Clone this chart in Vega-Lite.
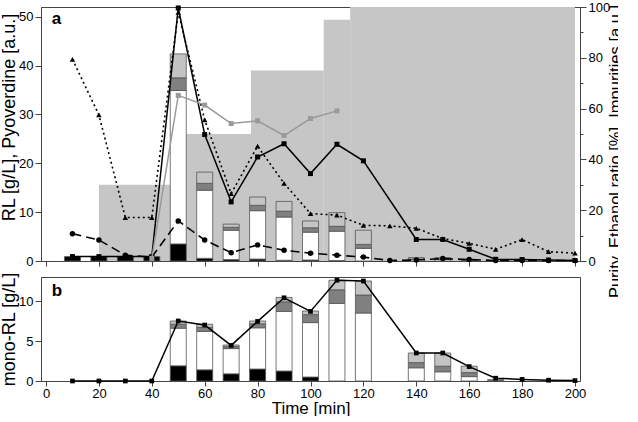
{
  "$schema": "https://vega.github.io/schema/vega-lite/v6.json",
  "padding": {"left": 0, "top": 0, "right": -6, "bottom": -1},
  "background": "white",
  "bounds": "flush",
  "config": {
    "font": "Liberation Sans",
    "view": {"stroke": "#444", "strokeWidth": 1},
    "axis": {
      "labelFont": "Liberation Sans", "labelFontSize": 13, "labelColor": "#000",
      "titleFont": "Liberation Sans", "titleFontSize": 18, "titleFontWeight": "normal", "titleColor": "#000",
      "domainColor": "#444", "tickColor": "#444", "grid": false, "labelPadding": 2, "titlePadding": 0
    }
  },
  "datasets": {
    "ethanol": [
      {"from": 20, "to": 50, "ratio": 30},
      {"from": 50, "to": 77.5, "ratio": 50},
      {"from": 77.5, "to": 105, "ratio": 75},
      {"from": 105, "to": 115, "ratio": 95},
      {"from": 115, "to": 200, "ratio": 100}
    ],
    "rl": [
      {"t": 10, "part": "c1", "v": 0.9}, {"t": 20, "part": "c1", "v": 0.9}, {"t": 30, "part": "c1", "v": 0.9}, {"t": 40, "part": "c1", "v": 0.9},
      {"t": 50, "part": "c1", "v": 3.5}, {"t": 50, "part": "c2", "v": 31.4}, {"t": 50, "part": "c3", "v": 2.6}, {"t": 50, "part": "c4", "v": 4.9},
      {"t": 60, "part": "c1", "v": 0.55}, {"t": 60, "part": "c2", "v": 13.95}, {"t": 60, "part": "c3", "v": 1.4}, {"t": 60, "part": "c4", "v": 2.3},
      {"t": 70, "part": "c1", "v": 0.3}, {"t": 70, "part": "c2", "v": 6.0}, {"t": 70, "part": "c3", "v": 0.6}, {"t": 70, "part": "c4", "v": 0.65},
      {"t": 80, "part": "c1", "v": 0.4}, {"t": 80, "part": "c2", "v": 9.9}, {"t": 80, "part": "c3", "v": 1.1}, {"t": 80, "part": "c4", "v": 1.7},
      {"t": 90, "part": "c1", "v": 0.15}, {"t": 90, "part": "c2", "v": 8.85}, {"t": 90, "part": "c3", "v": 1.2}, {"t": 90, "part": "c4", "v": 2.0},
      {"t": 100, "part": "c1", "v": 0.2}, {"t": 100, "part": "c2", "v": 5.7}, {"t": 100, "part": "c3", "v": 0.9}, {"t": 100, "part": "c4", "v": 1.4},
      {"t": 110, "part": "c1", "v": 0.1}, {"t": 110, "part": "c2", "v": 6.0}, {"t": 110, "part": "c3", "v": 1.0}, {"t": 110, "part": "c4", "v": 2.8},
      {"t": 120, "part": "c2", "v": 2.6}, {"t": 120, "part": "c3", "v": 0.8}, {"t": 120, "part": "c4", "v": 2.9},
      {"t": 140, "part": "c2", "v": 0.3}, {"t": 140, "part": "c3", "v": 0.1}, {"t": 140, "part": "c4", "v": 0.3},
      {"t": 150, "part": "c2", "v": 0.3}, {"t": 150, "part": "c3", "v": 0.1}, {"t": 150, "part": "c4", "v": 0.3},
      {"t": 160, "part": "c2", "v": 0.1}, {"t": 160, "part": "c3", "v": 0.05}, {"t": 160, "part": "c4", "v": 0.15}
    ],
    "series": [
      {"t": 10, "s": "RL", "v": 0.9}, {"t": 20, "s": "RL", "v": 0.9}, {"t": 30, "s": "RL", "v": 0.9}, {"t": 40, "s": "RL", "v": 0.9},
      {"t": 50, "s": "RL", "v": 51.8}, {"t": 60, "s": "RL", "v": 25.9}, {"t": 70, "s": "RL", "v": 12.1}, {"t": 80, "s": "RL", "v": 21.3},
      {"t": 90, "s": "RL", "v": 24.0}, {"t": 100, "s": "RL", "v": 17.9}, {"t": 110, "s": "RL", "v": 23.9}, {"t": 120, "s": "RL", "v": 20.5},
      {"t": 140, "s": "RL", "v": 4.4}, {"t": 150, "s": "RL", "v": 4.4}, {"t": 160, "s": "RL", "v": 2.4}, {"t": 170, "s": "RL", "v": 0.35},
      {"t": 180, "s": "RL", "v": 0.3}, {"t": 190, "s": "RL", "v": 0.2}, {"t": 200, "s": "RL", "v": 0.1},
      {"t": 10, "s": "Impurities", "v": 41.3}, {"t": 20, "s": "Impurities", "v": 29.9}, {"t": 30, "s": "Impurities", "v": 8.9}, {"t": 40, "s": "Impurities", "v": 8.9},
      {"t": 50, "s": "Impurities", "v": 50.9}, {"t": 60, "s": "Impurities", "v": 28.9}, {"t": 70, "s": "Impurities", "v": 13.8}, {"t": 80, "s": "Impurities", "v": 23.5},
      {"t": 90, "s": "Impurities", "v": 15.9}, {"t": 100, "s": "Impurities", "v": 9.7}, {"t": 110, "s": "Impurities", "v": 9.4}, {"t": 120, "s": "Impurities", "v": 7.3},
      {"t": 130, "s": "Impurities", "v": 7.2}, {"t": 140, "s": "Impurities", "v": 6.7}, {"t": 150, "s": "Impurities", "v": 4.6}, {"t": 160, "s": "Impurities", "v": 3.6},
      {"t": 170, "s": "Impurities", "v": 2.4}, {"t": 180, "s": "Impurities", "v": 4.4}, {"t": 190, "s": "Impurities", "v": 1.9}, {"t": 200, "s": "Impurities", "v": 1.6},
      {"t": 10, "s": "Pyoverdine", "v": 5.6}, {"t": 20, "s": "Pyoverdine", "v": 4.3}, {"t": 30, "s": "Pyoverdine", "v": 1.2}, {"t": 40, "s": "Pyoverdine", "v": 0.8},
      {"t": 50, "s": "Pyoverdine", "v": 8.2}, {"t": 60, "s": "Pyoverdine", "v": 4.3}, {"t": 70, "s": "Pyoverdine", "v": 1.7}, {"t": 80, "s": "Pyoverdine", "v": 3.3},
      {"t": 90, "s": "Pyoverdine", "v": 2.2}, {"t": 100, "s": "Pyoverdine", "v": 1.6}, {"t": 110, "s": "Pyoverdine", "v": 1.2}, {"t": 120, "s": "Pyoverdine", "v": 0.8},
      {"t": 130, "s": "Pyoverdine", "v": 0.1}, {"t": 140, "s": "Pyoverdine", "v": 0.2}, {"t": 150, "s": "Pyoverdine", "v": 0.5}, {"t": 160, "s": "Pyoverdine", "v": 0.3},
      {"t": 170, "s": "Pyoverdine", "v": 0.1}, {"t": 180, "s": "Pyoverdine", "v": 0.1}, {"t": 190, "s": "Pyoverdine", "v": 0.1}, {"t": 200, "s": "Pyoverdine", "v": 0.1}
    ],
    "purity": [
      {"t": 40, "v": 1}, {"t": 50, "v": 65.2}, {"t": 60, "v": 61.4}, {"t": 70, "v": 54.1},
      {"t": 80, "v": 55.2}, {"t": 90, "v": 49.4}, {"t": 100, "v": 56.1}, {"t": 110, "v": 59.1}
    ],
    "mono": [
      {"t": 50, "part": "c1", "v": 1.9}, {"t": 50, "part": "c2", "v": 4.7}, {"t": 50, "part": "c3", "v": 0.5}, {"t": 50, "part": "c4", "v": 0.4},
      {"t": 60, "part": "c1", "v": 1.4}, {"t": 60, "part": "c2", "v": 4.8}, {"t": 60, "part": "c3", "v": 0.5}, {"t": 60, "part": "c4", "v": 0.4},
      {"t": 70, "part": "c1", "v": 0.9}, {"t": 70, "part": "c2", "v": 3.15}, {"t": 70, "part": "c3", "v": 0.25}, {"t": 70, "part": "c4", "v": 0.2},
      {"t": 80, "part": "c1", "v": 1.5}, {"t": 80, "part": "c2", "v": 5.15}, {"t": 80, "part": "c3", "v": 0.5}, {"t": 80, "part": "c4", "v": 0.35},
      {"t": 90, "part": "c1", "v": 1.25}, {"t": 90, "part": "c2", "v": 7.45}, {"t": 90, "part": "c3", "v": 1.2}, {"t": 90, "part": "c4", "v": 0.55},
      {"t": 100, "part": "c1", "v": 0.5}, {"t": 100, "part": "c2", "v": 6.8}, {"t": 100, "part": "c3", "v": 1.0}, {"t": 100, "part": "c4", "v": 0.45},
      {"t": 110, "part": "c2", "v": 9.7}, {"t": 110, "part": "c3", "v": 1.7}, {"t": 110, "part": "c4", "v": 1.2},
      {"t": 120, "part": "c2", "v": 8.5}, {"t": 120, "part": "c3", "v": 2.25}, {"t": 120, "part": "c4", "v": 1.75},
      {"t": 140, "part": "c2", "v": 1.65}, {"t": 140, "part": "c3", "v": 0.65}, {"t": 140, "part": "c4", "v": 1.2},
      {"t": 150, "part": "c2", "v": 1.15}, {"t": 150, "part": "c3", "v": 0.7}, {"t": 150, "part": "c4", "v": 1.65},
      {"t": 160, "part": "c2", "v": 0.55}, {"t": 160, "part": "c3", "v": 0.5}, {"t": 160, "part": "c4", "v": 0.8},
      {"t": 170, "part": "c2", "v": 0.1}, {"t": 170, "part": "c4", "v": 0.05}
    ],
    "monoline": [
      {"t": 10, "v": 0}, {"t": 20, "v": 0}, {"t": 30, "v": 0}, {"t": 40, "v": 0},
      {"t": 50, "v": 7.5}, {"t": 60, "v": 7.0}, {"t": 70, "v": 4.45}, {"t": 80, "v": 7.45},
      {"t": 90, "v": 10.4}, {"t": 100, "v": 8.7}, {"t": 110, "v": 12.6}, {"t": 120, "v": 12.5},
      {"t": 140, "v": 3.5}, {"t": 150, "v": 3.5}, {"t": 160, "v": 1.8}, {"t": 170, "v": 0.35},
      {"t": 180, "v": 0.2}, {"t": 190, "v": 0.1}, {"t": 200, "v": 0.05}
    ],
    "labels": [{"panel": "a", "x": 2.2, "y": 49.6}, {"panel": "b", "x": 2.2, "y": 11.2}]
  },
  "spacing": 16,
  "vconcat": [
    {
      "width": 539,
      "height": 254,
      "layer": [
        {
          "data": {"name": "ethanol"},
          "mark": {"type": "rect", "color": "#c6c6c6"},
          "encoding": {
            "x": {"field": "from", "type": "quantitative", "scale": {"domain": [0, 200], "nice": false},
                  "axis": {"values": [0,10,20,30,40,50,60,70,80,90,100,110,120,130,140,150,160,170,180,190,200], "labels": false, "title": null,
                           "tickSize": {"condition": {"test": "datum.value % 20 === 0", "value": 5}, "value": 3}}},
            "x2": {"field": "to"},
            "y": {"field": "ratio", "type": "quantitative", "scale": {"domain": [0, 100], "nice": false},
                  "axis": {"orient": "right", "title": "Purity, Ethanol ratio [%], Impurities [a.u.]", "titleFontSize": 16.5,
                           "titleAngle": 270, "titleX": 35, "titleY": 144, "titleAlign": "center", "titleBaseline": "middle",
                           "values": [0,10,20,30,40,50,60,70,80,90,100],
                           "labelExpr": "datum.value % 20 === 0 ? datum.label : ''",
                           "tickSize": {"condition": {"test": "datum.value % 20 === 0", "value": 6}, "value": 3}}},
            "y2": {"datum": 0}
          }
        },
        {
          "layer": [
            {
              "data": {"name": "rl"},
              "mark": {"type": "bar", "size": 16, "stroke": "#555", "strokeWidth": 0.8},
              "encoding": {
                "x": {"field": "t", "type": "quantitative"},
                "y": {"field": "v", "type": "quantitative", "stack": "zero", "scale": {"domain": [0, 52], "nice": false},
                      "axis": {"orient": "left", "title": "RL [g/L], Pyoverdine [a.u.]", "titleY": 110,
                               "values": [0,5,10,15,20,25,30,35,40,45,50],
                               "labelExpr": "datum.value % 10 === 0 ? datum.label : ''",
                               "tickSize": {"condition": {"test": "datum.value % 10 === 0", "value": 6}, "value": 3}}},
                "color": {"field": "part", "type": "nominal", "legend": null,
                          "scale": {"domain": ["c1", "c2", "c3", "c4"], "range": ["#000000", "#ffffff", "#808080", "#c4c4c4"]}},
                "order": {"field": "part", "type": "nominal", "sort": "ascending"}
              }
            },
            {
              "data": {"name": "series"},
              "transform": [{"filter": "datum.s === 'Pyoverdine'"}],
              "mark": {"type": "line", "color": "#000", "strokeWidth": 1.6, "strokeDash": [9, 5],
                       "point": {"shape": "circle", "size": 30, "filled": true, "color": "#000"}},
              "encoding": {"x": {"field": "t", "type": "quantitative"}, "y": {"field": "v", "type": "quantitative"}}
            },
            {
              "data": {"name": "series"},
              "transform": [{"filter": "datum.s === 'Impurities'"}],
              "mark": {"type": "line", "color": "#000", "strokeWidth": 1.6, "strokeDash": [2, 3],
                       "point": {"shape": "triangle-up", "size": 30, "filled": true, "color": "#000"}},
              "encoding": {"x": {"field": "t", "type": "quantitative"}, "y": {"field": "v", "type": "quantitative"}}
            },
            {
              "data": {"name": "series"},
              "transform": [{"filter": "datum.s === 'RL'"}],
              "mark": {"type": "line", "color": "#000", "strokeWidth": 1.5,
                       "point": {"shape": "square", "size": 25, "filled": true, "color": "#000"}},
              "encoding": {"x": {"field": "t", "type": "quantitative"}, "y": {"field": "v", "type": "quantitative"}}
            },
            {
              "data": {"name": "labels"},
              "transform": [{"filter": "datum.panel === 'a'"}],
              "mark": {"type": "text", "fontWeight": "bold", "fontSize": 17, "align": "left", "baseline": "middle", "color": "#000"},
              "encoding": {"x": {"field": "x", "type": "quantitative"}, "y": {"field": "y", "type": "quantitative"}, "text": {"field": "panel"}}
            }
          ]
        },
        {
          "data": {"name": "purity"},
          "mark": {"type": "line", "color": "#9a9a9a", "strokeWidth": 1.5,
                   "point": {"shape": "square", "size": 25, "filled": true, "color": "#9a9a9a"}},
          "encoding": {
            "x": {"field": "t", "type": "quantitative"},
            "y": {"field": "v", "type": "quantitative", "scale": {"domain": [0, 100], "nice": false}, "axis": null}
          }
        }
      ],
      "resolve": {"scale": {"y": "independent"}, "axis": {"y": "independent"}}
    },
    {
      "width": 539,
      "height": 104,
      "layer": [
        {
          "data": {"name": "mono"},
          "mark": {"type": "bar", "size": 16, "stroke": "#555", "strokeWidth": 0.8},
          "encoding": {
            "x": {"field": "t", "type": "quantitative", "scale": {"domain": [0, 200], "nice": false},
                  "axis": {"values": [0,10,20,30,40,50,60,70,80,90,100,110,120,130,140,150,160,170,180,190,200],
                           "labelExpr": "datum.value % 20 === 0 ? datum.label : ''", "title": "Time [min]", "titlePadding": 0, "labelPadding": 1, "titleFontSize": 17,
                           "tickSize": {"condition": {"test": "datum.value % 20 === 0", "value": 5}, "value": 3}}},
            "y": {"field": "v", "type": "quantitative", "stack": "zero", "scale": {"domain": [0, 13], "nice": false},
                  "axis": {"title": "mono-RL [g/L]", "values": [0, 2.5, 5, 7.5, 10, 12.5],
                           "labelExpr": "datum.value % 5 === 0 ? datum.label : ''",
                           "tickSize": {"condition": {"test": "datum.value % 5 === 0", "value": 6}, "value": 3}}},
            "color": {"field": "part", "type": "nominal", "legend": null,
                      "scale": {"domain": ["c1", "c2", "c3", "c4"], "range": ["#000000", "#ffffff", "#808080", "#c4c4c4"]}},
            "order": {"field": "part", "type": "nominal", "sort": "ascending"}
          }
        },
        {
          "data": {"name": "monoline"},
          "mark": {"type": "line", "color": "#000", "strokeWidth": 1.5,
                   "point": {"shape": "square", "size": 22, "filled": true, "color": "#000"}},
          "encoding": {"x": {"field": "t", "type": "quantitative"}, "y": {"field": "v", "type": "quantitative"}}
        },
        {
          "data": {"name": "labels"},
          "transform": [{"filter": "datum.panel === 'b'"}],
          "mark": {"type": "text", "fontWeight": "bold", "fontSize": 17, "align": "left", "baseline": "middle", "color": "#000"},
          "encoding": {"x": {"field": "x", "type": "quantitative"}, "y": {"field": "y", "type": "quantitative"}, "text": {"field": "panel"}}
        }
      ]
    }
  ]
}
